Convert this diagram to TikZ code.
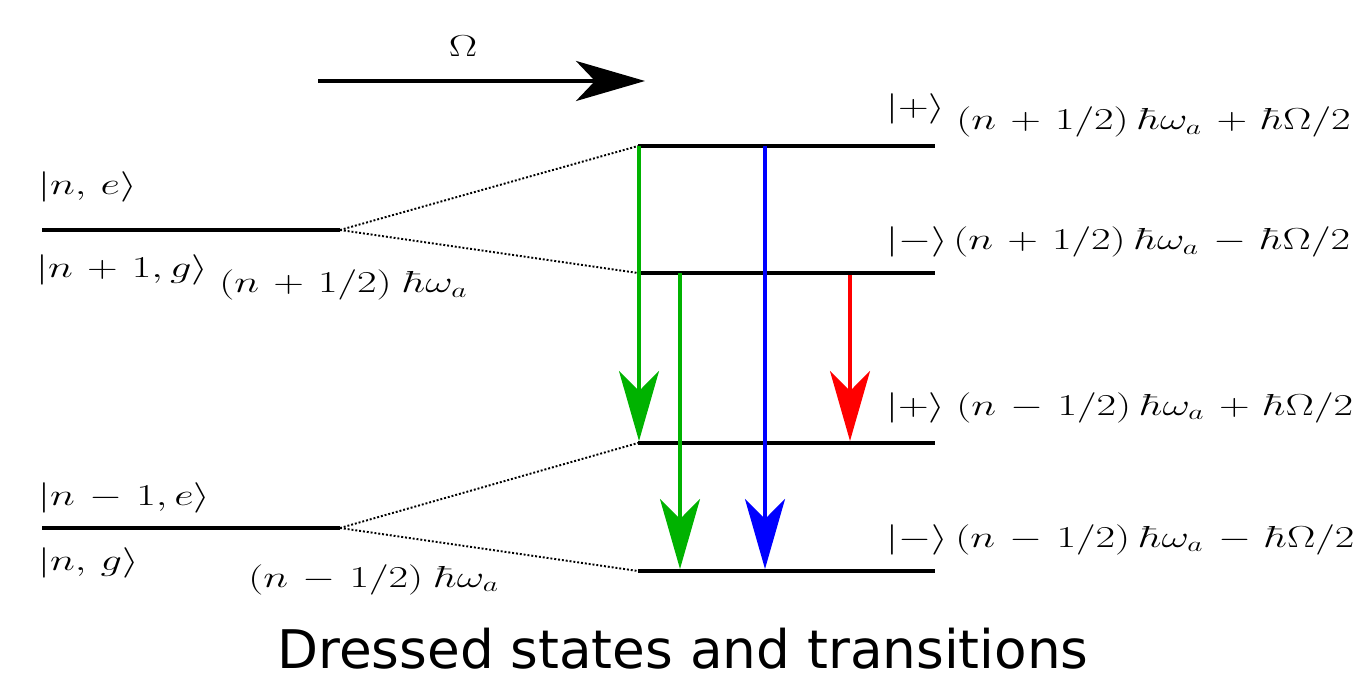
\documentclass[tikz,border=0pt]{standalone}
\usepackage{fontspec}
\usepackage{graphicx}
\usetikzlibrary{arrows.meta}
\newfontfamily\titlefont{DejaVu Sans}
\newcommand\mth[1]{\scalebox{1.4}[1]{\fontsize{17}{20}\selectfont\medmuskip=6mu$#1$}}
\newcommand\gp{\mskip4mu}
\definecolor{tgreen}{RGB}{0,178,0}
\definecolor{tblue}{RGB}{0,0,255}
\definecolor{tred}{RGB}{255,0,0}
\begin{document}
\begin{tikzpicture}[x=0.02cm,y=-0.02cm,
  level/.style={line width=2.2pt},
  link/.style={line width=1.1pt, dash pattern=on 1.1pt off 1.1pt},
  trans/.style={line width=2pt,-{Stealth[length=1.4cm,width=0.8cm,inset=0.4cm]}},
  lbl/.style={anchor=base west, inner sep=0pt}]
\useasboundingbox (0,0) rectangle (1354,685);
% coordinates of levels
\coordinate (Lua) at (42,230); \coordinate (Lub) at (340,230);
\coordinate (Lla) at (42,528); \coordinate (Llb) at (340,528);
\coordinate (R1a) at (638,146); \coordinate (R1b) at (935,146);
\coordinate (R2a) at (638,273); \coordinate (R2b) at (935,273);
\coordinate (R3a) at (638,443); \coordinate (R3b) at (935,443);
\coordinate (R4a) at (638,571); \coordinate (R4b) at (935,571);
% levels
\draw[level] (Lua) -- (Lub);
\draw[level] (Lla) -- (Llb);
\draw[level] (R1a) -- (R1b);
\draw[level] (R2a) -- (R2b);
\draw[level] (R3a) -- (R3b);
\draw[level] (R4a) -- (R4b);
% dotted links
\draw[link] (Lub) -- (R1a);
\draw[link] (Lub) -- (R2a);
\draw[link] (Llb) -- (R3a);
\draw[link] (Llb) -- (R4a);
% Omega arrow
\coordinate (Os) at (318,81); \coordinate (Oe) at (645,81);
\draw[line width=2.3pt,-{Stealth[length=1.38cm,width=0.8cm,inset=0.38cm]}] (Os) -- (Oe);
\node[anchor=base, inner sep=0pt] (Om) at (463,57) {\mth{\Omega}};
% transitions
\coordinate (g1s) at (639,146); \coordinate (g1e) at (639,441);
\coordinate (g2s) at (680,273); \coordinate (g2e) at (680,569);
\coordinate (bs) at (765,146); \coordinate (be) at (765,569);
\coordinate (rs) at (850,275); \coordinate (re) at (850,441);
\draw[trans, tgreen] (g1s) -- (g1e);
\draw[trans, tgreen] (g2s) -- (g2e);
\draw[trans, tblue] (bs) -- (be);
\draw[trans, tred] (rs) -- (re);
% left labels
\node[lbl] (ne) at (38,195) {\mth{|n,\, e\rangle}};
\node[lbl] (n1g) at (36,278) {\mth{|n+1, g\rangle}};
\node[lbl] (Eu) at (219,293) {\mth{(n+1/2)\;\hbar\omega_a}};
\node[lbl] (n1e) at (38,505) {\mth{|n-1, e\rangle}};
\node[lbl] (ng) at (38,570) {\mth{|n,\, g\rangle}};
\node[lbl] (El) at (248,587) {\mth{(n-1/2)\;\hbar\omega_a}};
% right labels
\node[lbl] (k1) at (886,117) {\mth{|{+}\rangle}};
\node[lbl] (e1) at (956,130) {\mth{(n+1/2)\gp\hbar\omega_a+\hbar\Omega/2}};
\node[lbl] (k2) at (886,250) {\mth{|{-}\rangle}};
\node[lbl] (e2) at (953,250) {\mth{(n+1/2)\gp\hbar\omega_a-\hbar\Omega/2}};
\node[lbl] (k3) at (886,415) {\mth{|{+}\rangle}};
\node[lbl] (e3) at (956,415) {\mth{(n-1/2)\gp\hbar\omega_a+\hbar\Omega/2}};
\node[lbl] (k4) at (886,547) {\mth{|{-}\rangle}};
\node[lbl] (e4) at (955,547) {\mth{(n-1/2)\gp\hbar\omega_a-\hbar\Omega/2}};
% title
\node[anchor=base, inner sep=0pt] (title) at (683,668) {\titlefont\fontsize{30.3}{36}\selectfont Dressed states and transitions};
\end{tikzpicture}
\end{document}
